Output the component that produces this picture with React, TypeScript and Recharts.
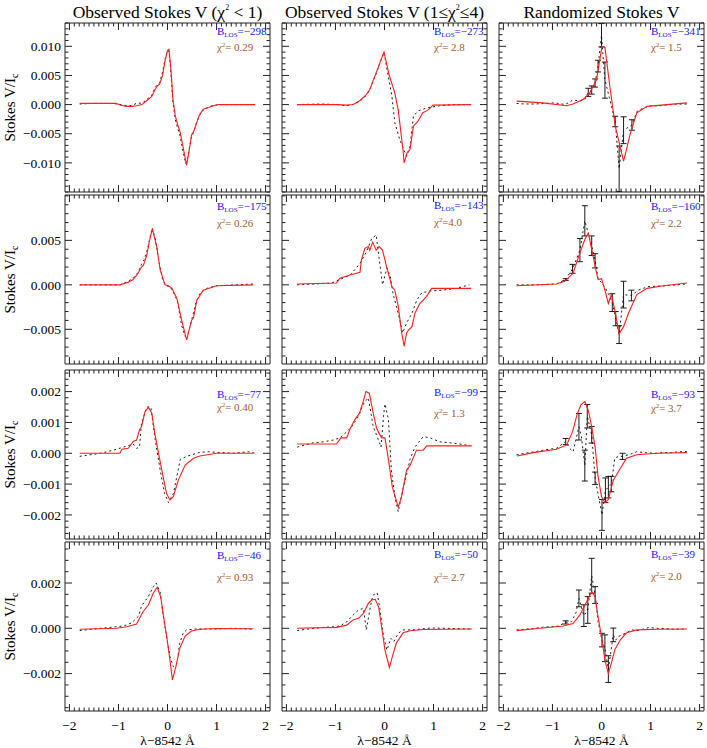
import React from "react";
import { LineChart, Line, XAxis, YAxis, ReferenceArea, ErrorBar } from "recharts";

// [wavelength offset, Stokes V/Ic] and [x, v, error] for the randomized column
type Pt = [number, number];
type EPt = [number, number, number];

// ---------- row 1 ----------
const fitR1C1: Pt[] = [
  [-1.79, 0.0002], [-1.05, 0.0002], [-0.95, -0.0001], [-0.84, -0.0003], [-0.73, -0.0003], [-0.63, -0.0002],
  [-0.52, 0.0], [-0.42, 0.0007], [-0.32, 0.0014], [-0.26, 0.0025], [-0.21, 0.0032], [-0.16, 0.0035],
  [-0.1, 0.005], [-0.05, 0.0075], [0.0, 0.0093], [0.03, 0.0095], [0.07, 0.006], [0.11, 0.001],
  [0.16, -0.002], [0.21, -0.0035], [0.26, -0.0048], [0.31, -0.007], [0.39, -0.0104], [0.44, -0.008],
  [0.49, -0.0052], [0.54, -0.0045], [0.6, -0.003], [0.65, -0.0018], [0.73, -0.0008], [0.84, -0.0005],
  [0.94, -0.0002], [1.05, 0.0], [1.79, 0.0],
];
const obsR1C1: Pt[] = [
  [-1.79, 0.0001], [-1.5, 0.0002], [-1.2, 0.0002], [-1.0, 0.0001], [-0.9, -0.0001], [-0.8, -0.0002],
  [-0.7, -0.0001], [-0.62, 0.0003], [-0.52, 0.0002], [-0.42, 0.0009], [-0.32, 0.0016], [-0.26, 0.0028],
  [-0.21, 0.0034], [-0.16, 0.0038], [-0.1, 0.0056], [-0.05, 0.0078], [0.0, 0.0093], [0.03, 0.0092],
  [0.07, 0.0055], [0.11, 0.0004], [0.16, -0.0026], [0.21, -0.0041], [0.26, -0.0055], [0.31, -0.0078],
  [0.37, -0.0101], [0.42, -0.0088], [0.48, -0.0058], [0.53, -0.0048], [0.59, -0.0031], [0.65, -0.0019],
  [0.73, -0.0009], [0.84, -0.0004], [0.94, -0.0001], [1.1, 0.0], [1.4, 0.0], [1.79, 0.0],
];
const fitR1C2: Pt[] = [
  [-1.78, 0.0], [-0.95, 0.0], [-0.78, -0.0001], [-0.64, 0.0], [-0.5, 0.0007], [-0.37, 0.0017],
  [-0.3, 0.0026], [-0.16, 0.0057], [-0.08, 0.0075], [-0.01, 0.009], [0.1, 0.0049], [0.21, 0.002],
  [0.28, -0.0009], [0.38, -0.008], [0.4, -0.01], [0.46, -0.0083], [0.52, -0.0077], [0.59, -0.0037],
  [0.68, -0.0029], [0.78, -0.0014], [0.88, -0.001], [0.99, -0.0001], [1.77, 0.0],
];
const obsR1C2: Pt[] = [
  [-1.78, 0.0], [-1.3, 0.0001], [-0.95, 0.0], [-0.78, -0.0002], [-0.64, 0.0], [-0.5, 0.0006],
  [-0.37, 0.0016], [-0.3, 0.0026], [-0.16, 0.0055], [-0.08, 0.0074], [-0.01, 0.009], [0.04, 0.0066],
  [0.15, 0.0015], [0.21, -0.0031], [0.31, -0.006], [0.45, -0.0089], [0.52, -0.0072], [0.59, -0.002],
  [0.68, -0.0011], [0.85, -0.0006], [1.12, -0.0002], [1.4, 0.0], [1.77, 0.0],
];
const fitR1C3: Pt[] = [
  [-1.73, 0.0006], [-1.2, 0.0003], [-0.71, -0.0002], [-0.58, 0.0001], [-0.37, 0.0009], [-0.24, 0.002],
  [-0.1, 0.0043], [0.01, 0.01], [0.07, 0.0098], [0.17, 0.0031], [0.28, -0.0037], [0.45, -0.0097],
  [0.59, -0.0049], [0.72, -0.0014], [0.93, -0.0003], [1.74, 0.0003],
];
const obsR1C3: EPt[] = [
  [-1.73, 0.0002, 0], [-1.56, 0.0001, 0], [-1.36, 0.0001, 0], [-1.15, 0.0002, 0], [-0.95, 0.0003, 0],
  [-0.74, 0.0, 0], [-0.58, 0.0008, 0], [-0.44, 0.0006, 0], [-0.34, 0.0009, 0], [-0.27, 0.0021, 0.0007],
  [-0.2, 0.0025, 0.0007], [-0.13, 0.0037, 0.0007], [-0.07, 0.0066, 0.001], [0.0, 0.0119, 0.002],
  [0.07, 0.0042, 0.0031], [0.16, 0.0012, 0], [0.28, -0.0029, 0.0009], [0.36, -0.011, 0.0039],
  [0.45, -0.0044, 0.0023], [0.62, -0.0035, 0.0009], [0.72, -0.0012, 0], [0.85, -0.0006, 0],
  [0.99, -0.0002, 0], [1.19, -0.0002, 0], [1.4, 0.0, 0], [1.57, 0.0001, 0], [1.74, 0.0001, 0],
];

// ---------- row 2 ----------
const fitR2C1: Pt[] = [
  [-1.79, 0.0], [-0.97, 0.0], [-0.8, 0.0003], [-0.7, 0.0006], [-0.6, 0.0013], [-0.53, 0.002],
  [-0.49, 0.0022], [-0.42, 0.0034], [-0.37, 0.0049], [-0.31, 0.0063], [-0.22, 0.0043], [-0.15, 0.0017],
  [-0.05, 0.0], [0.02, -0.0001], [0.09, -0.0004], [0.19, -0.0015], [0.29, -0.004], [0.39, -0.0062],
  [0.49, -0.004], [0.53, -0.0037], [0.6, -0.0017], [0.73, -0.0006], [1.0, -0.0001], [1.75, 0.0],
];
const obsR2C1: Pt[] = [
  [-1.79, 0.0], [-1.4, 0.0], [-0.97, 0.0], [-0.8, 0.0004], [-0.7, 0.0008], [-0.6, 0.0014],
  [-0.53, 0.0023], [-0.46, 0.003], [-0.4, 0.0042], [-0.35, 0.0055], [-0.31, 0.0064], [-0.25, 0.0052],
  [-0.18, 0.0028], [-0.1, 0.0006], [-0.03, -0.0001], [0.05, -0.0002], [0.12, -0.0008], [0.2, -0.0018],
  [0.29, -0.0046], [0.36, -0.0058], [0.42, -0.0055], [0.5, -0.0038], [0.58, -0.002], [0.67, -0.0009],
  [0.8, -0.0004], [1.0, -0.0001], [1.4, 0.0], [1.75, 0.0001],
];
const fitR2C2: Pt[] = [
  [-1.78, 0.0001], [-0.98, 0.0002], [-0.91, 0.00075], [-0.7, 0.0011], [-0.5, 0.0014], [-0.47, 0.0028],
  [-0.4, 0.0041], [-0.33, 0.0043], [-0.3, 0.0039], [-0.24, 0.0048], [-0.17, 0.0039], [-0.11, 0.0043],
  [-0.04, 0.0039], [0.04, 0.0021], [0.15, -0.0002], [0.21, -0.0006], [0.28, -0.0024], [0.35, -0.0054],
  [0.4, -0.0069], [0.45, -0.0054], [0.49, -0.0051], [0.56, -0.0047], [0.62, -0.0032], [0.72, -0.0021],
  [0.86, -0.0013], [0.96, -0.0004], [1.77, -0.0004],
];
const obsR2C2: Pt[] = [
  [-1.78, 0.0], [-1.4, 0.0001], [-1.08, 0.0002], [-0.7, 0.0011], [-0.5, 0.0024], [-0.37, 0.0037],
  [-0.26, 0.0052], [-0.17, 0.0056], [-0.11, 0.003], [-0.04, 0.0], [0.05, 0.0019], [0.12, 0.0009],
  [0.17, -0.0009], [0.28, -0.0032], [0.37, -0.0054], [0.45, -0.0043], [0.56, -0.0032], [0.66, -0.0017],
  [0.76, -0.0009], [0.92, -0.0007], [1.19, -0.0006], [1.46, -0.0004], [1.73, 0.0],
];
const fitR2C3: Pt[] = [
  [-1.73, -0.0001], [-0.92, 0.0001], [-0.75, 0.0004], [-0.58, 0.0013], [-0.44, 0.0036], [-0.34, 0.0051],
  [-0.27, 0.0058], [-0.2, 0.004], [-0.13, 0.0021], [-0.07, 0.0006], [0.0, 0.0007], [0.07, -0.0006],
  [0.14, -0.0021], [0.2, -0.0011], [0.27, -0.0028], [0.36, -0.0055], [0.45, -0.0047], [0.55, -0.0032],
  [0.72, -0.0011], [0.93, -0.0004], [1.26, -0.0001], [1.74, 0.0002],
];
const obsR2C3: EPt[] = [
  [-1.73, 0.0, 0], [-1.33, 0.0, 0], [-0.92, 0.0001, 0], [-0.73, 0.0006, 0.0001], [-0.59, 0.0018, 0.0005],
  [-0.44, 0.0039, 0.0013], [-0.34, 0.0072, 0.0017], [-0.2, 0.0044, 0.0011], [-0.13, 0.0027, 0.0008],
  [-0.07, 0.0007, 0], [0.01, 0.0002, 0], [0.08, -0.0004, 0], [0.15, -0.0011, 0], [0.22, -0.002, 0.001],
  [0.29, -0.0038, 0.0008], [0.36, -0.0056, 0.001], [0.45, -0.0011, 0.0015], [0.61, -0.0012, 0.0006],
  [0.75, -0.0006, 0], [0.95, -0.0002, 0], [1.32, -0.0001, 0], [1.74, 0.0001, 0],
];

// ---------- row 3 ----------
const fitR3C1: Pt[] = [
  [-1.79, 0.0], [-0.97, 0.0], [-0.93, 0.00013], [-0.8, 0.00016], [-0.7, 0.00038], [-0.63, 0.00043],
  [-0.57, 0.00076], [-0.53, 0.00086], [-0.46, 0.00135], [-0.39, 0.00149], [-0.32, 0.0013], [-0.26, 0.00065],
  [-0.17, -0.00011], [-0.09, -0.00076], [-0.02, -0.0013], [0.05, -0.00152], [0.12, -0.0014], [0.22, -0.00087],
  [0.36, -0.00038], [0.53, -0.00016], [0.66, -0.00009], [1.0, 0.0], [1.75, 0.0],
];
const obsR3C1: Pt[] = [
  [-1.79, -0.0001], [-1.37, 0.0], [-1.1, 0.0001], [-0.8, 0.00025], [-0.7, 0.0003], [-0.63, 0.00016],
  [-0.57, 0.0002], [-0.53, 0.00097], [-0.42, 0.0015], [-0.34, 0.0015], [-0.26, 0.00054], [-0.15, -0.00054],
  [-0.06, -0.0013], [0.02, -0.0016], [0.12, -0.0013], [0.19, -0.00076], [0.26, -0.0002], [0.39, -0.0001],
  [0.66, 0.00003], [0.83, 0.00005], [1.34, 0.0], [1.65, 0.00005], [1.79, 0.0],
];
const fitR3C2: Pt[] = [
  [-1.78, 0.0003], [-0.98, 0.0003], [-0.89, 0.0005], [-0.77, 0.0005], [-0.7, 0.0008], [-0.6, 0.0011],
  [-0.51, 0.0013], [-0.43, 0.0017], [-0.38, 0.002], [-0.31, 0.00195], [-0.23, 0.0013], [-0.16, 0.0008],
  [-0.06, 0.0005], [0.01, 0.0005], [0.08, -0.0002], [0.16, -0.0011], [0.28, -0.00175], [0.35, -0.0014],
  [0.45, -0.00054], [0.52, -0.0004], [0.65, 0.0001], [0.79, 0.0001], [0.86, 0.00024], [1.78, 0.00024],
];
const obsR3C2: Pt[] = [
  [-1.78, 0.0002], [-1.45, 0.00034], [-1.25, 0.00037], [-1.04, 0.00043], [-0.91, 0.0005], [-0.77, 0.0007],
  [-0.67, 0.00086], [-0.53, 0.0012], [-0.43, 0.0016], [-0.33, 0.0018], [-0.23, 0.00086], [-0.15, 0.00054],
  [-0.07, 0.0002], [-0.02, 0.0012], [0.01, 0.0016], [0.08, 0.0011], [0.14, -0.00054], [0.21, -0.0014],
  [0.28, -0.0019], [0.37, -0.0012], [0.45, -0.0007], [0.52, -0.0002], [0.62, 0.0002], [0.79, 0.00054],
  [0.93, 0.0005], [1.13, 0.00037], [1.33, 0.00034], [1.54, 0.0003], [1.74, 0.00024],
];
const fitR3C3: Pt[] = [
  [-1.72, -0.00009], [-1.39, 0.00002], [-0.92, 0.00013], [-0.71, 0.00027], [-0.59, 0.0007], [-0.49, 0.0013],
  [-0.42, 0.00157], [-0.34, 0.00168], [-0.27, 0.0014], [-0.2, 0.00086], [-0.13, 0.0002], [-0.07, -0.00076],
  [0.0, -0.0014], [0.07, -0.0016], [0.14, -0.0015], [0.24, -0.00087], [0.38, -0.0005], [0.51, -0.00016],
  [0.72, -0.00005], [1.13, 0.0], [1.74, 0.00002],
];
const obsR3C3: EPt[] = [
  [-1.73, -0.00005, 0], [-1.56, 0.0, 0], [-1.36, 0.00005, 0], [-1.15, 0.00011, 0], [-0.92, 0.00016, 0],
  [-0.73, 0.00038, 0.0001], [-0.65, 0.00016, 0], [-0.58, 0.00005, 0], [-0.53, 0.00038, 0],
  [-0.46, 0.00086, 0.00043], [-0.41, 0.00054, 0], [-0.34, -0.0004, 0.0005], [-0.29, 0.0012, 0.00038],
  [-0.2, 0.0006, 0.00027], [-0.13, -0.00081, 0.0002], [0.01, -0.002, 0.0005], [0.08, -0.0012, 0.0004],
  [0.14, -0.0011, 0.00035], [0.2, -0.001, 0.00025], [0.27, -0.00016, 0], [0.35, -0.0001, 0],
  [0.43, -0.0001, 0.0001], [0.59, -0.00003, 0], [0.72, 0.00005, 0], [0.89, 0.00002, 0], [1.09, 0.0, 0],
  [1.26, 0.00002, 0], [1.43, 0.00002, 0], [1.57, 0.00005, 0], [1.74, 0.00005, 0],
];

// ---------- row 4 ----------
const fitR4C1: Pt[] = [
  [-1.79, -0.00004], [-1.04, 0.0], [-0.83, 0.00007], [-0.63, 0.00019], [-0.5, 0.00073], [-0.39, 0.00103],
  [-0.29, 0.00155], [-0.21, 0.00181], [-0.14, 0.0014], [-0.09, 0.00066], [-0.02, -0.0003], [0.05, -0.0014],
  [0.1, -0.00228], [0.17, -0.0017], [0.25, -0.00088], [0.36, -0.00034], [0.49, -0.00012], [0.66, -0.00004],
  [1.0, -0.00001], [1.75, -0.00002],
];
const obsR4C1: Pt[] = [
  [-1.79, -0.0001], [-1.37, 0.0], [-1.07, 0.00006], [-0.87, 0.00012], [-0.73, 0.00024], [-0.59, 0.00054],
  [-0.53, 0.00099], [-0.39, 0.0014], [-0.29, 0.00184], [-0.23, 0.002], [-0.15, 0.0016], [-0.09, 0.00059],
  [-0.02, -0.00037], [0.05, -0.00125], [0.12, -0.0017], [0.19, -0.00155], [0.25, -0.00066], [0.32, -0.0002],
  [0.39, -0.00007], [0.59, -0.00003], [0.93, -0.00003], [1.34, 0.0], [1.75, -0.00004],
];
const fitR4C2: Pt[] = [
  [-1.78, 0.0], [-0.98, 0.00004], [-0.77, 0.00014], [-0.64, 0.00037], [-0.53, 0.00044], [-0.43, 0.00066],
  [-0.33, 0.0011], [-0.26, 0.00125], [-0.19, 0.00128], [-0.12, 0.00095], [-0.06, 0.00007], [0.01, -0.00096],
  [0.1, -0.00173], [0.16, -0.00125], [0.24, -0.00066], [0.38, -0.0002], [0.52, -0.00011], [0.79, -0.00005],
  [1.78, -0.00003],
];
const obsR4C2: Pt[] = [
  [-1.78, -0.0001], [-1.59, -0.00004], [-1.25, 0.00004], [-1.04, 0.00007], [-0.91, 0.0001], [-0.77, 0.00029],
  [-0.64, 0.00059], [-0.53, 0.00081], [-0.43, 0.00088], [-0.37, -0.00007], [-0.3, 0.00081], [-0.26, 0.00125],
  [-0.23, 0.00147], [-0.15, 0.00157], [-0.09, 0.00081], [-0.02, -0.00037], [0.05, -0.00096], [0.13, -0.00044],
  [0.19, -0.00059], [0.28, -0.00022], [0.38, -0.00007], [0.58, -0.00007], [0.93, 0.00001], [1.27, 0.0],
  [1.74, -0.00003],
];
const fitR4C3: Pt[] = [
  [-1.73, -0.0001], [-1.26, 0.0], [-0.78, 0.0001], [-0.58, 0.00021], [-0.44, 0.00059], [-0.3, 0.00118],
  [-0.2, 0.00162], [-0.13, 0.0014], [-0.07, 0.00051], [0.0, -0.00037], [0.07, -0.0014], [0.14, -0.002],
  [0.2, -0.00155], [0.27, -0.00096], [0.38, -0.00052], [0.51, -0.0002], [0.72, -0.00007], [1.13, -0.00004],
  [1.74, -0.00003],
];
const obsR4C3: EPt[] = [
  [-1.73, -0.00007, 0], [-1.56, -0.00004, 0], [-1.39, -0.00001, 0], [-1.19, 0.00005, 0], [-1.02, 0.00007, 0],
  [-0.88, 0.0001, 0], [-0.73, 0.00026, 0.00007], [-0.61, 0.00029, 0], [-0.52, 0.00069, 0],
  [-0.46, 0.00132, 0.00037], [-0.36, 0.00056, 0.00048], [-0.28, 0.00081, 0.00059], [-0.2, 0.00232, 0.00077],
  [-0.13, 0.00147, 0.00037], [-0.07, 0.00029, 0], [0.01, -0.00052, 0.0003], [0.07, -0.00088, 0.00059],
  [0.14, -0.0018, 0.00059], [0.24, -0.00029, 0.0003], [0.29, -0.00052, 0], [0.34, -0.00037, 0],
  [0.48, -0.00022, 0], [0.62, -0.00007, 0], [0.75, -0.0001, 0], [0.96, 0.00003, 0], [1.13, 0.0, 0],
  [1.29, -0.00001, 0], [1.46, -0.00004, 0], [1.74, -0.00003, 0],
];

// annotations
const B_LOS = [
  [-298, -273, -341],
  [-175, -143, -160],
  [-77, -99, -93],
  [-46, -50, -39],
];
const CHI2 = [
  ["= 0.29", "= 2.8", "= 1.5"],
  ["= 0.26", "=4.0", "= 2.2"],
  ["= 0.40", "= 1.3", "= 3.7"],
  ["= 0.93", "= 2.7", "= 2.0"],
];

// axes
const X_DOMAIN: [number, number] = [-2.09, 2.09];
const X_MAJOR = [-2, -1, 0, 1, 2];
const X_LABELS = ["−2", "−1", "0", "1", "2"];
const X_MINOR_STEP = 0.1;
const Y_DOMAINS: [number, number][] = [
  [-0.015, 0.014],
  [-0.0089, 0.0101],
  [-0.00278, 0.0027],
  [-0.00365, 0.00381],
];
const Y_MAJOR = [
  [-0.01, -0.005, 0, 0.005, 0.01],
  [-0.005, 0, 0.005],
  [-0.002, -0.001, 0, 0.001, 0.002],
  [-0.002, 0, 0.002],
];
const Y_LABELS = [
  ["−0.010", "−0.005", "0.000", "0.005", "0.010"],
  ["−0.005", "0.000", "0.005"],
  ["−0.002", "−0.001", "0.000", "0.001", "0.002"],
  ["−0.002", "0.000", "0.002"],
];
const Y_MINOR_STEP = [0.001, 0.001, 0.0002, 0.0005];

const FITS = [
  [fitR1C1, fitR1C2, fitR1C3],
  [fitR2C1, fitR2C2, fitR2C3],
  [fitR3C1, fitR3C2, fitR3C3],
  [fitR4C1, fitR4C2, fitR4C3],
];
const OBS = [
  [obsR1C1, obsR1C2],
  [obsR2C1, obsR2C2],
  [obsR3C1, obsR3C2],
  [obsR4C1, obsR4C2],
];
const OBS_RAND = [obsR1C3, obsR2C3, obsR3C3, obsR4C3];

// layout
const PW = 205;
const PH = 169;
const YW = 65;
const XH = 40;
const PAD = 4;
const PANEL_LEFT = [65, 282, 499];
const PANEL_TOP = [23, 195, 370, 542];
// label centre y: [B_LOS, chi2] per panel
const LABEL_Y = [
  [[31, 47], [31, 47], [31, 47]],
  [[206, 223], [205, 222], [206, 223]],
  [[394, 407], [392, 413], [394, 408]],
  [[555, 577], [554, 577], [554, 576]],
];

const FONT = "'Liberation Serif', 'Times New Roman', 'DejaVu Serif', serif";
const AXIS = "#222";
const RED = "#ff1e1e";
const BLUE = "#1414ff";
const BROWN = "#a5582f";

function tickList(d: [number, number], step: number) {
  const out: number[] = [];
  for (let k = Math.ceil(d[0] / step - 1e-6); k <= Math.floor(d[1] / step + 1e-6); k++) {
    out.push(Number((k * step).toFixed(6)));
  }
  return out;
}
const xTicks = tickList(X_DOMAIN, X_MINOR_STEP);

function majorIndex(v: number, majors: number[], step: number) {
  return majors.findIndex((m) => Math.abs(m - v) < step * 0.01);
}

function XTick(props: any) {
  const { x, y, payload, showLabel } = props;
  const i = majorIndex(payload.value, X_MAJOR, X_MINOR_STEP);
  const len = i >= 0 ? 7 : 3.5;
  return (
    <g>
      <line x1={x} y1={y} x2={x} y2={y - len} stroke={AXIS} strokeWidth={1} />
      <line x1={x} y1={y - PH} x2={x} y2={y - PH + len} stroke={AXIS} strokeWidth={1} />
      {showLabel && i >= 0 && (
        <text x={x} y={y + 19} textAnchor="middle" fontSize={13.5} fontFamily={FONT} fill="#000">
          {X_LABELS[i]}
        </text>
      )}
    </g>
  );
}

function YTick(props: any) {
  const { x, y, payload, row, showLabel } = props;
  const i = majorIndex(payload.value, Y_MAJOR[row], Y_MINOR_STEP[row]);
  const len = i >= 0 ? 7 : 3.5;
  return (
    <g>
      <line x1={x} y1={y} x2={x + len} y2={y} stroke={AXIS} strokeWidth={1} />
      <line x1={x + PW} y1={y} x2={x + PW - len} y2={y} stroke={AXIS} strokeWidth={1} />
      {showLabel && i >= 0 && (
        <text x={x - 4} y={y} dy="0.35em" textAnchor="end" fontSize={13.5} fontFamily={FONT} fill="#000">
          {Y_LABELS[row][i]}
        </text>
      )}
    </g>
  );
}

function Panel({ r, c }: { r: number; c: number }) {
  const fit = FITS[r][c].map(([x, v]) => ({ x, v }));
  const obs =
    c === 2
      ? OBS_RAND[r].map(([x, v, e]) => ({ x, v, e }))
      : OBS[r][c].map(([x, v]) => ({ x, v }));
  const yTicks = tickList(Y_DOMAINS[r], Y_MINOR_STEP[r]);
  return (
    <div style={{ position: "absolute", left: PANEL_LEFT[c] - YW, top: PANEL_TOP[r] - PAD }}>
      <LineChart
        width={YW + PW + PAD}
        height={PAD + PH + XH}
        margin={{ top: PAD, right: PAD, bottom: 0, left: 0 }}
      >
        <XAxis
          type="number"
          dataKey="x"
          domain={X_DOMAIN}
          ticks={xTicks}
          interval={0}
          tickSize={0}
          tickMargin={0}
          axisLine={false}
          tickLine={false}
          height={XH}
          allowDataOverflow
          tick={(p: any) => <XTick {...p} showLabel={r === 3} />}
        />
        <YAxis
          type="number"
          domain={Y_DOMAINS[r]}
          ticks={yTicks}
          interval={0}
          tickSize={0}
          tickMargin={0}
          axisLine={false}
          tickLine={false}
          width={YW}
          allowDataOverflow
          tick={(p: any) => <YTick {...p} row={r} showLabel={c === 0} />}
        />
        <ReferenceArea
          x1={X_DOMAIN[0]}
          x2={X_DOMAIN[1]}
          y1={Y_DOMAINS[r][0]}
          y2={Y_DOMAINS[r][1]}
          fill="none"
          fillOpacity={0}
          stroke={AXIS}
          strokeWidth={1}
          ifOverflow="visible"
        />
        <Line
          data={obs}
          dataKey="v"
          stroke="#1a1a1a"
          strokeWidth={1}
          strokeDasharray="2 3"
          dot={false}
          isAnimationActive={false}
        >
          {c === 2 && (
            <ErrorBar dataKey="e" width={3} stroke="#1a1a1a" strokeWidth={1} direction="y" isAnimationActive={false} />
          )}
        </Line>
        <Line data={fit} dataKey="v" stroke={RED} strokeWidth={1.1} dot={false} isAnimationActive={false} />
      </LineChart>
    </div>
  );
}

function Overlay() {
  const colCenter = PANEL_LEFT.map((l) => l + PW / 2);
  return (
    <svg
      width={707}
      height={748}
      style={{ position: "absolute", left: 0, top: 0, pointerEvents: "none" }}
      fontFamily={FONT}
    >
      <text x={colCenter[0]} y={18} textAnchor="middle" fontSize={17.5}>
        Observed Stokes V (χ<tspan fontSize={8} dy={-8}>2</tspan>
        <tspan dy={8}>{" < 1)"}</tspan>
      </text>
      <text x={colCenter[1]} y={18} textAnchor="middle" fontSize={17.5}>
        Observed Stokes V (1≤χ<tspan fontSize={8} dy={-8}>2</tspan>
        <tspan dy={8}>≤4)</tspan>
      </text>
      <text x={colCenter[2]} y={18} textAnchor="middle" fontSize={17.5}>
        Randomized Stokes V
      </text>
      {PANEL_TOP.map((t, r) => {
        const cy = t + PH / 2;
        return (
          <text key={"yl" + r} x={15} y={cy} transform={`rotate(-90 15 ${cy})`} textAnchor="middle" fontSize={15}>
            Stokes V/I<tspan fontSize={10} dy={3}>c</tspan>
          </text>
        );
      })}
      {colCenter.map((cx, c) => (
        <text key={"xl" + c} x={cx} y={745} textAnchor="middle" fontSize={13.5}>
          λ−8542 Å
        </text>
      ))}
      {B_LOS.map((row, r) =>
        row.map((b, c) => {
          const x = PANEL_LEFT[c] + 152;
          const [by, cy] = LABEL_Y[r][c];
          return (
            <g key={`lab${r}${c}`}>
              <text x={x} y={by + 3.5} fill={BLUE} fontSize={11}>
                B<tspan fontSize={7} dy={2}>LOS</tspan>
                <tspan dy={-2}>{"=" + (b < 0 ? "−" : "") + Math.abs(b)}</tspan>
              </text>
              <text x={x} y={cy + 3.5} fill={BROWN} fontSize={11}>
                χ<tspan fontSize={6.5} dy={-4}>2</tspan>
                <tspan dy={4}>{CHI2[r][c]}</tspan>
              </text>
            </g>
          );
        })
      )}
    </svg>
  );
}

export default function App() {
  return (
    <div style={{ position: "fixed", left: 0, top: 0, width: 707, height: 748, background: "#fff" }}>
      {[0, 1, 2, 3].map((r) => [0, 1, 2].map((c) => <Panel key={`p${r}${c}`} r={r} c={c} />))}
      <Overlay />
    </div>
  );
}
